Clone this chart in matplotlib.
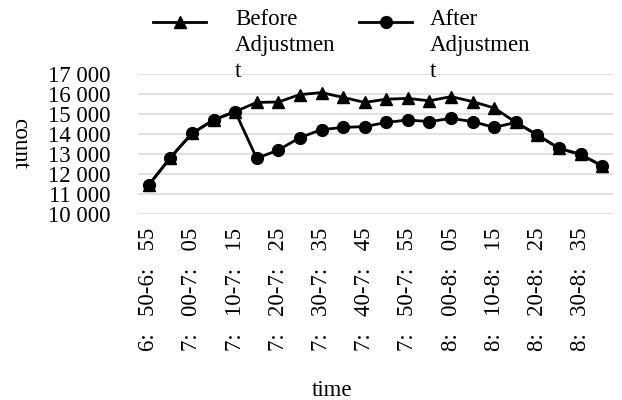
#!/usr/bin/env python3

import numpy as np
import matplotlib.pyplot as plt
from matplotlib.lines import Line2D

plt.rcParams['font.family'] = ['Liberation Serif', 'DejaVu Serif']
plt.rcParams['font.size'] = 16.5

intervals = ["6:50-6:55", "6:55-7:00", "7:00-7:05", "7:05-7:10", "7:10-7:15",
             "7:15-7:20", "7:20-7:25", "7:25-7:30", "7:30-7:35", "7:35-7:40",
             "7:40-7:45", "7:45-7:50", "7:50-7:55", "7:55-8:00", "8:00-8:05",
             "8:05-8:10", "8:10-8:15", "8:15-8:20", "8:20-8:25", "8:25-8:30",
             "8:30-8:35", "8:35-8:40"]
before = [11450, 12820, 14030, 14700, 15120, 15580, 15600, 15970, 16070, 15830,
          15580, 15740, 15780, 15660, 15870, 15620, 15300, 14580, 13950, 13280,
          12980, 12400]
after = [11450, 12820, 14030, 14700, 15120, 12780, 13200, 13820, 14220, 14330,
         14370, 14580, 14700, 14620, 14780, 14620, 14330, 14580, 13950, 13280,
         12980, 12400]
yticks = [10000, 11000, 12000, 13000, 14000, 15000, 16000, 17000]

fig = plt.figure(figsize=(6.22, 4.0), dpi=100)
ax = fig.add_axes([138/622, 1-214/400, 475/622, 140/400])

x = np.arange(len(intervals))
ax.plot(x, before, '-^', color='black', lw=2, ms=8.5, zorder=3)
ax.plot(x, after, '-o', color='black', lw=2, ms=8.5, zorder=4)

ax.set_xlim(-0.5, len(intervals) - 0.5)
ax.set_ylim(10000, 17000)
ax.set_yticks(yticks)
ax.set_yticklabels(["{:,}".format(v).replace(",", " ") for v in yticks])
ax.set_xticks(x[::2])
ax.set_xticklabels([s.replace(":", ":   ") for s in intervals[::2]], rotation=90)
ax.tick_params(axis='y', length=0, pad=20)
ax.tick_params(axis='x', length=0, pad=10)
ax.grid(axis='y', color='#d9d9d9', lw=1.1, zorder=0)
for s in ax.spines.values():
    s.set_visible(False)

fig.text(20/622, 1-143/400, "count", rotation=270, ha='center', va='center')
fig.text(332/622, 1-391/400, "time", ha='center', va='center')

# legend
for (x0, x1, xt, mk, lab) in [(153, 206, 235, '^', "Before\nAdjustmen\nt"),
                              (359, 412, 430, 'o', "After\nAdjustmen\nt")]:
    fig.add_artist(Line2D([x0/622, x1/622], [1-22/400, 1-22/400], color='black',
                          lw=2, transform=fig.transFigure))
    fig.add_artist(Line2D([(x0+x1)/2/622], [1-22/400], marker=mk, color='black',
                          ms=8.5, transform=fig.transFigure))
    fig.text(xt/622, 1-9/400, lab, ha='left', va='top', linespacing=1.3)

plt.savefig('out.png')
